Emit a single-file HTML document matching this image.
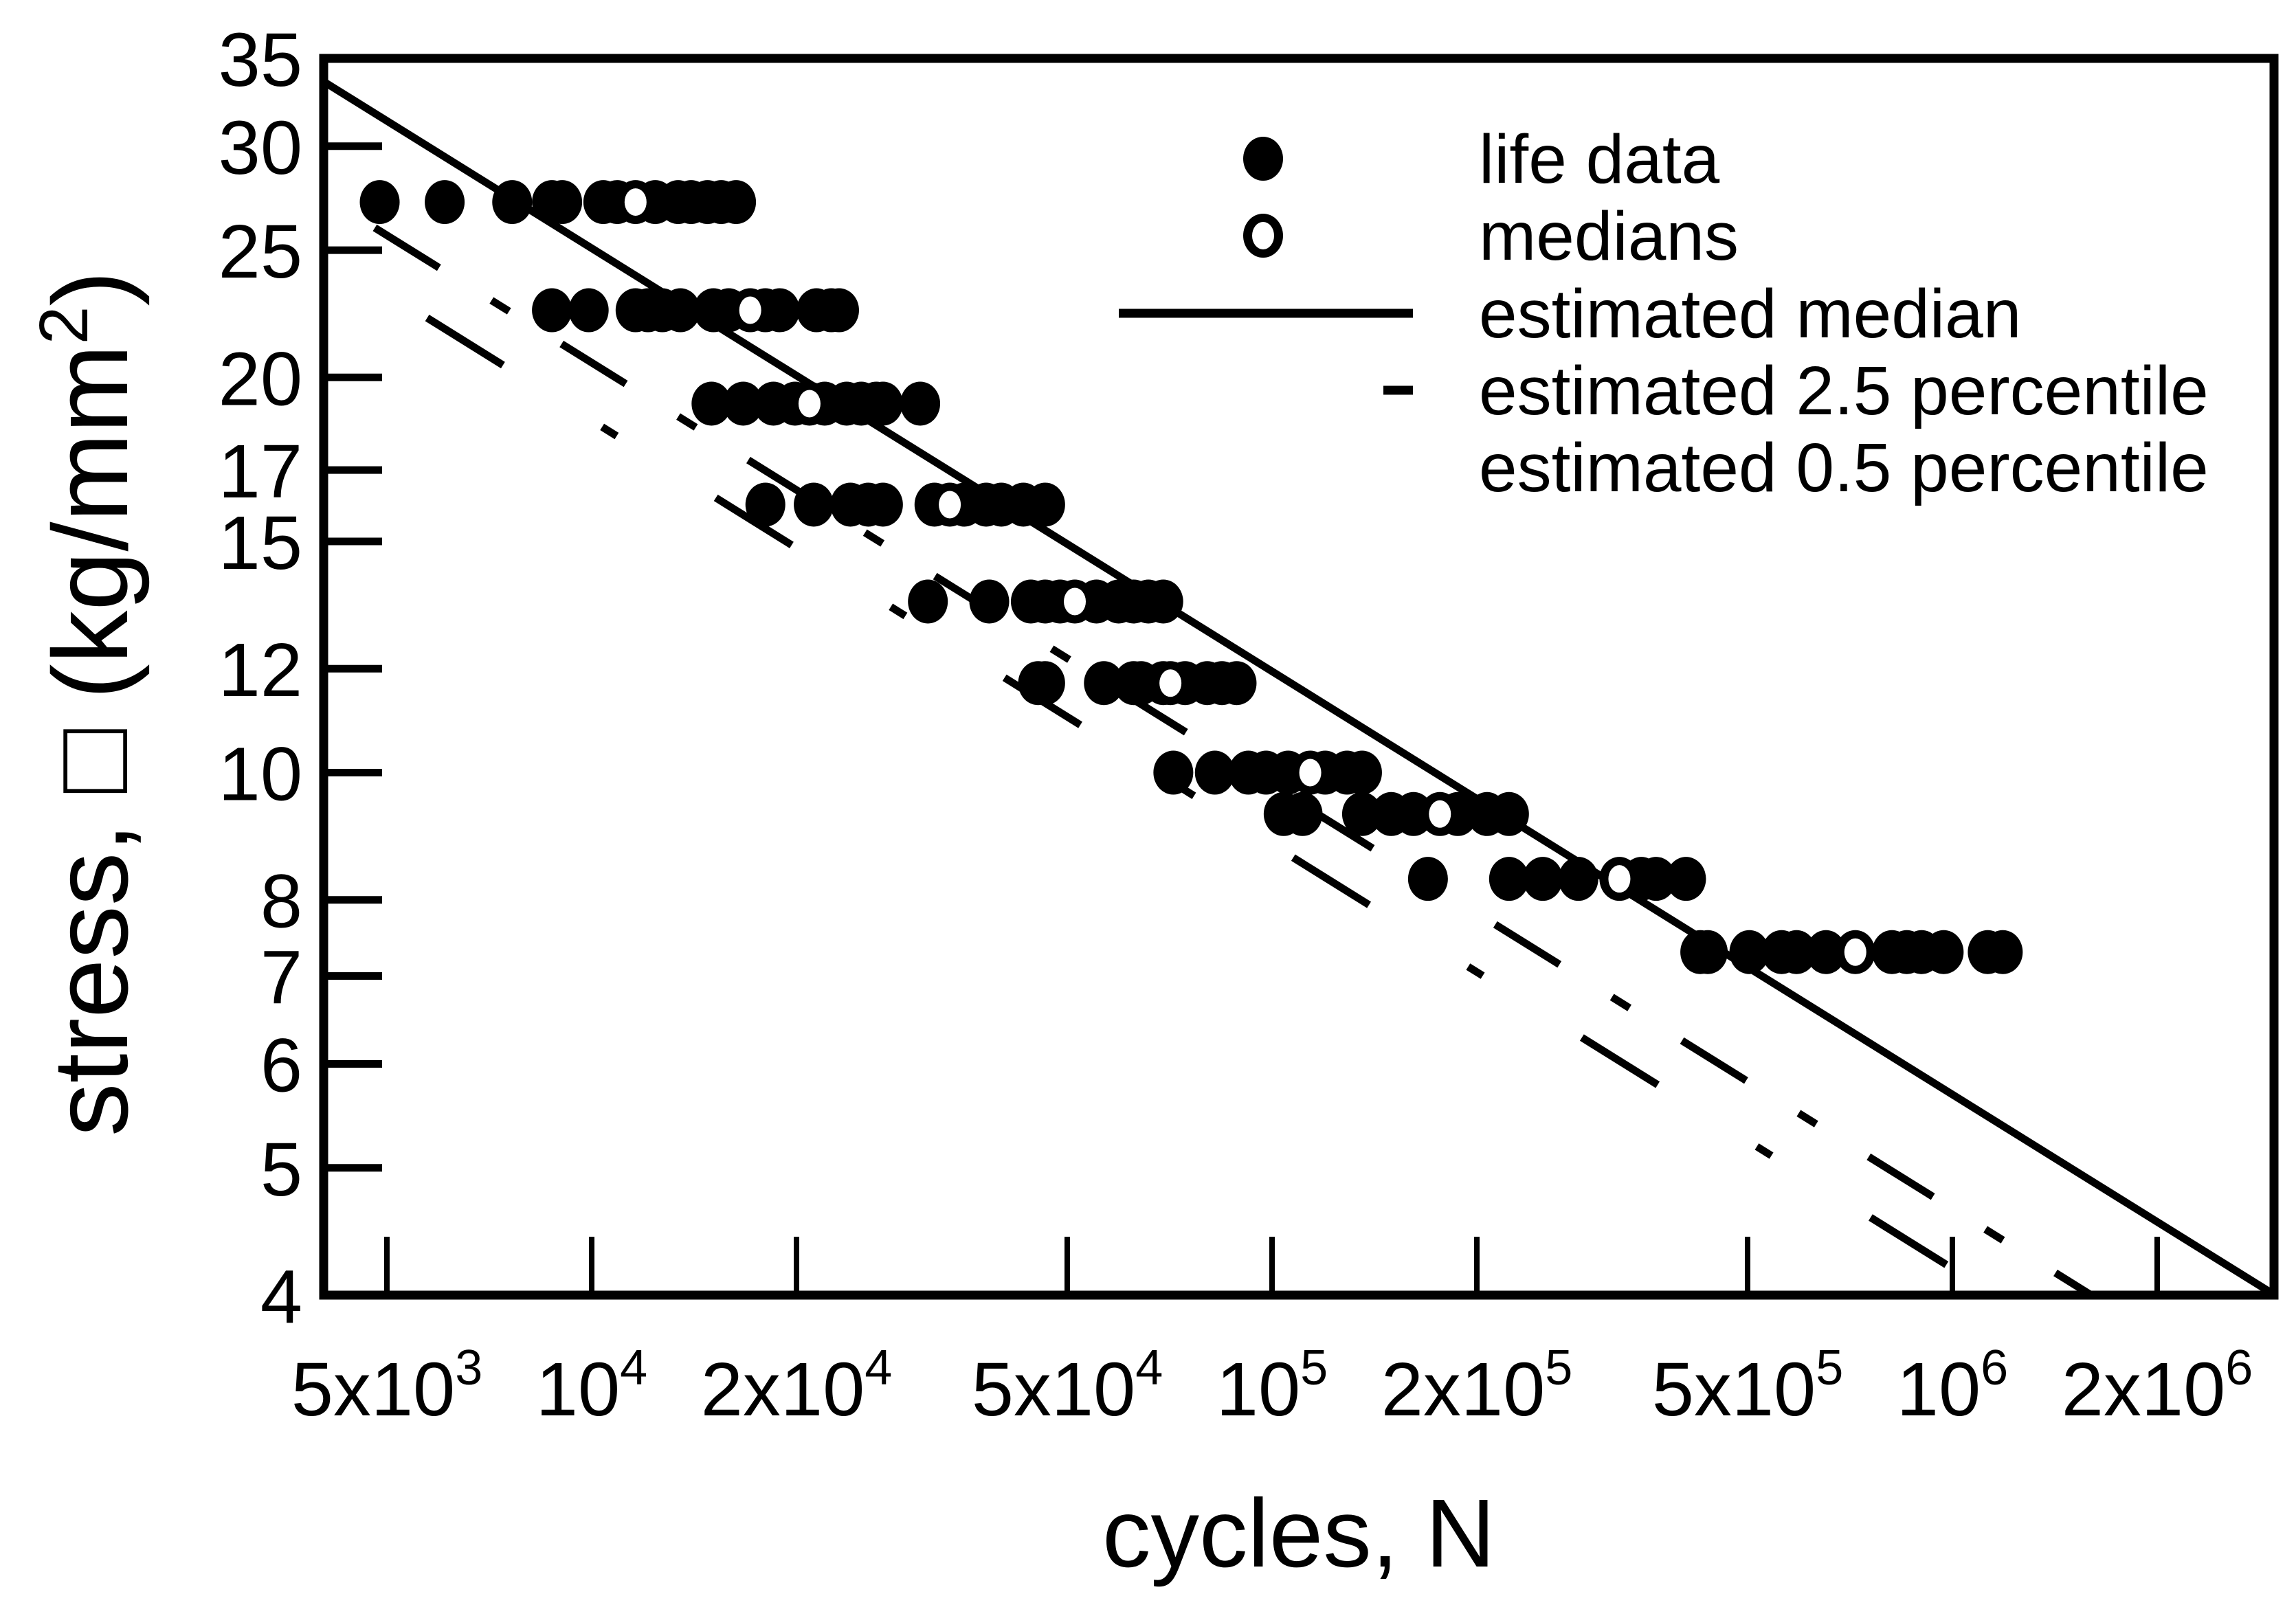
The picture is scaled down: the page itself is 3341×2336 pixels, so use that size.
<!DOCTYPE html>
<html><head><meta charset="utf-8"><style>
html,body{margin:0;padding:0;background:#fff;}
svg{display:block;}
text{font-family:"Liberation Sans",Arial,sans-serif;fill:#000;}
</style></head><body>
<svg id="chart" width="3341" height="2336" viewBox="0 0 3341 2336" xmlns="http://www.w3.org/2000/svg">
<g id="marks"></g>
<g id="axes"></g>
<g id="legend">
  <ellipse cx="1838" cy="231" rx="29" ry="32" fill="#000"/>
  <text x="2152" y="266" font-size="100">life data</text>
  <ellipse cx="1838" cy="343" rx="29" ry="32" fill="#000"/>
  <ellipse cx="1838" cy="343" rx="16" ry="20" fill="#fff"/>
  <text x="2152" y="378" font-size="100">medians</text>
  <line x1="1628" y1="456" x2="2056" y2="456" stroke="#000" stroke-width="13"/>
  <text x="2152" y="491" font-size="100">estimated median</text>
  <line x1="2013" y1="568" x2="2056" y2="568" stroke="#000" stroke-width="13"/>
  <text x="2152" y="603" font-size="100">estimated 2.5 percentile</text>
  <text x="2152" y="715" font-size="100">estimated 0.5 percentile</text>
</g>
<text x="1890" y="2280" font-size="141" text-anchor="middle">cycles, N</text>
<text transform="translate(185,1024) rotate(-90)" font-size="155" text-anchor="middle">stress, □ (kg/mm<tspan font-size="100" dy="-58">2</tspan><tspan dy="58">)</tspan></text>
</svg>
<script>
// ---- data ----
const lifeStress = [27.2,27.2,27.2,27.2,27.2,27.2,27.2,27.2,27.2,27.2,27.2,27.2,27.2,
 22.5,22.5,22.5,22.5,22.5,22.5,22.5,22.5,22.5,22.5,22.5,22.5,22.5,
 19.1,19.1,19.1,19.1,19.1,19.1,19.1,19.1,19.1,19.1,
 16.0,16.0,16.0,16.0,16.0,16.0,16.0,16.0,16.0,16.0,16.0,
 13.5,13.5,13.5,13.5,13.5,13.5,13.5,13.5,13.5,13.5,
 11.7,11.7,11.7,11.7,11.7,11.7,11.7,11.7,11.7,11.7,
 10.0,10.0,10.0,10.0,10.0,10.0,10.0,10.0,
 9.3,9.3,9.3,9.3,9.3,9.3,9.3,9.3,
 8.3,8.3,8.3,8.3,8.3,8.3,8.3,
 7.3,7.3,7.3,7.3,7.3,7.3,7.3,7.3,7.3,7.3,7.3,7.3];
const lifeCycles = [4880,6080,7640,8740,9050,10400,10900,12400,13400,14000,14800,15500,16300,
 8740,9900,11600,12100,12700,13500,15100,15900,18000,18900,21400,22500,23100,
 15000,16700,18500,19900,22000,23700,24900,26200,26800,30400,
 18000,21200,24000,25500,26800,31900,35300,38000,40000,43100,46400,
 31200,38400,44200,46400,48800,55200,59500,62600,65800,69200,
 45300,46400,56600,62600,64200,69200,74500,80300,84400,88700,
 71600,82400,92300,98000,105600,119700,128900,135600,
 104000,110900,135600,149700,161400,187500,207000,223000,
 169500,223000,250000,282000,349000,367000,406000,
 426000,437000,503000,561000,590000,652000,815000,857000,901000,971000,1127000,1186000];
const medianCycles = [11600,17100,20900,33600,51300,70900,113800,176500,324000,720000];
const medianStress = [27.2,22.5,19.1,16.0,13.5,11.7,10.0,9.3,8.3,7.3];
const fitMedianN = [4036,2980000];
const fitMedianS = [33.6,4];
const fitP25N = [4800,1600000];
const fitP25S = [26.0,4];
const fitP05N = [5730,1156000];
const fitP05S = [22.2,4];
const yTicks = [35,30,25,20,17,15,12,10,8,7,6,5,4];
const xTicks = [5000,10000,20000,50000,100000,200000,500000,1000000,2000000];
const xTickMant = ["5x10","10","2x10","5x10","10","2x10","5x10","10","2x10"];
const xTickExp = ["3","4","4","4","5","5","5","6","6"];

// ---- scales ----
const L=471, R=3309, T=85, B=1885;
function xs(n){return 861+990*Math.log10(n/1e4);}
function ys(v){return 1885-1911*Math.log10(v/4);}
const NS="http://www.w3.org/2000/svg";
const marks=document.getElementById('marks');
const axes=document.getElementById('axes');
function mk(tag,attrs,parent){const e=document.createElementNS(NS,tag);for(const k in attrs)e.setAttribute(k,attrs[k]);parent.appendChild(e);return e;}

const defs=mk('defs',{},marks);
const cp=mk('clipPath',{id:'plotclip'},defs);
mk('rect',{x:L,y:T,width:R-L,height:B-T},cp);

const lines=[[fitMedianN,fitMedianS,'none','median-fit-line'],[fitP25N,fitP25S,'110 90 30 90','p25-fit-line'],[fitP05N,fitP05S,'130 170 25 170','p05-fit-line']];
lines.forEach(l=>{
  const e=mk('line',{x1:xs(l[0][0]),y1:ys(l[1][0]),x2:xs(l[0][1]),y2:ys(l[1][1]),stroke:'#000','stroke-width':11,'clip-path':'url(#plotclip)'},marks);
  if(l[2]!=='none') e.setAttribute('stroke-dasharray',l[2]);
  
  
});
lifeCycles.forEach((n,i)=>{
  const e=mk('ellipse',{cx:xs(n),cy:ys(lifeStress[i]),rx:29,ry:32,fill:'#000'},marks);
  
  
});
medianCycles.forEach((n,i)=>{
  const o=mk('ellipse',{cx:xs(n),cy:ys(medianStress[i]),rx:29,ry:32,fill:'#000'},marks);
  
  
  const e=mk('ellipse',{cx:xs(n),cy:ys(medianStress[i]),rx:16,ry:20,fill:'#fff'},marks);
  
  
});
const fr=mk('rect',{x:L,y:T,width:R-L,height:B-T,fill:'none',stroke:'#000','stroke-width':13},axes);


yTicks.forEach(v=>{
  const t=mk('line',{x1:L,x2:L+85,y1:ys(v),y2:ys(v),stroke:'#000','stroke-width':11},axes);
  
  
  const tx=mk('text',{x:440,y:ys(v)+40,'font-size':110,'text-anchor':'end'},axes);
  tx.textContent=String(v);
  
  
});
xTicks.forEach((n,i)=>{
  const t=mk('line',{x1:xs(n),x2:xs(n),y1:B,y2:B-85,stroke:'#000','stroke-width':8},axes);
  
  
  const tx=mk('text',{x:xs(n),y:2060,'font-size':110,'text-anchor':'middle'},axes);
  
  
  tx.appendChild(document.createTextNode(xTickMant[i]));
  const sp=mk('tspan',{'font-size':72,dy:-45},tx);
  sp.textContent=xTickExp[i];
});
</script>
</body></html>
